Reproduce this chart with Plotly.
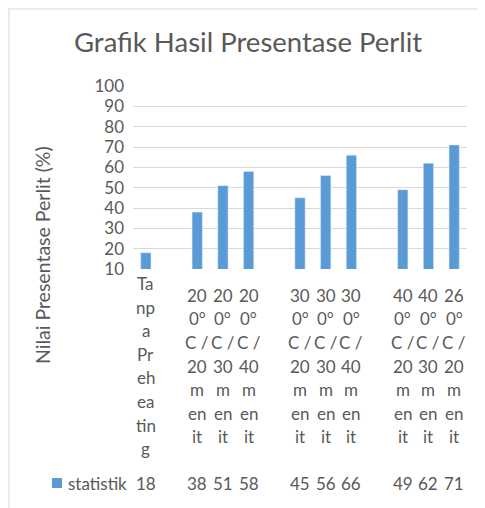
import plotly.graph_objects as go

# ---- data ----
categories = ["Tanpa Preheating", "", "200°C / 20 menit", "200°C / 30 menit", "200°C / 40 menit", "",
              "300°C / 20 menit", "300°C / 30 menit", "300°C / 40 menit", "",
              "400°C / 20 menit", "400°C / 30 menit", "260°C / 20 menit"]
values = [18, None, 38, 51, 58, None, 45, 56, 66, None, 49, 62, 71]
tick_labels = [
    ["Ta", "np", "a", "Pr", "eh", "ea", "tin", "g"],
    [],
    ["20", "0°", "C /", "20", "m", "en", "it"],
    ["20", "0°", "C /", "30", "m", "en", "it"],
    ["20", "0°", "C /", "40", "m", "en", "it"],
    [],
    ["30", "0°", "C /", "20", "m", "en", "it"],
    ["30", "0°", "C /", "30", "m", "en", "it"],
    ["30", "0°", "C /", "40", "m", "en", "it"],
    [],
    ["40", "0°", "C /", "20", "m", "en", "it"],
    ["40", "0°", "C /", "30", "m", "en", "it"],
    ["26", "0°", "C /", "20", "m", "en", "it"],
]
series_name = "statistik"
y_ticks = [10, 20, 30, 40, 50, 60, 70, 80, 90, 100]

# ---- layout constants (reference pixel coords, page body has 8px margin) ----
OFF = 8
W, H = 485 - OFF, 508 - OFF
PL, PR, PT, PB = 133, 467, 86, 269          # plot area in reference pixels
L, T = PL - OFF, PT - OFF
R, B = W - (PR - OFF), H - (PB - OFF)
PW, PH = PR - PL, PB - PT
BLUE = "#5B9BD5"
GREY = "#595959"
FONT = "Lato"
FS = 17

def px_x(p):
    return (p - PL) / PW

def px_y(p):
    return (PB - p) / PH

xs = list(range(len(categories)))

fig = go.Figure()
fig.add_trace(go.Bar(x=xs, y=values, name=series_name, marker=dict(color=BLUE),
                     width=0.40, hoverinfo="skip"))

annotations = []
# category header (wrapped) labels
center_px = 366
step = 23.6
for i, lines in enumerate(tick_labels):
    n = len(lines)
    for j, ln in enumerate(lines):
        annotations.append(dict(x=xs[i], y=px_y(center_px + (j - (n - 1) / 2) * step),
                                xref="x", yref="paper", text=ln,
                                showarrow=False, xanchor="center", yanchor="middle",
                                font=dict(family=FONT, size=FS, color=GREY)))
# data table values row
row_y = px_y(483)
for i, v in enumerate(values):
    if v is None:
        continue
    annotations.append(dict(x=xs[i], y=row_y, xref="x", yref="paper", text=str(v),
                            showarrow=False, xanchor="center", yanchor="middle",
                            font=dict(family=FONT, size=FS, color=GREY)))
# legend key text
annotations.append(dict(x=px_x(66), y=row_y, xref="paper", yref="paper", text=series_name,
                        showarrow=False, xanchor="left", yanchor="middle",
                        font=dict(family=FONT, size=FS, color=GREY)))
# y axis title
annotations.append(dict(x=px_x(42), y=px_y(255), xref="paper", yref="paper",
                        text="Nilai Presentase Perlit (%)", textangle=-90,
                        showarrow=False, xanchor="center", yanchor="middle",
                        font=dict(family=FONT, size=19.5, color=GREY)))
# title
annotations.append(dict(x=px_x(248), y=px_y(42), xref="paper", yref="paper",
                        text="Grafik Hasil Presentase Perlit",
                        showarrow=False, xanchor="center", yanchor="middle",
                        font=dict(family=FONT, size=27.5, color=GREY)))

shapes = [
    # legend key square
    dict(type="rect", xref="paper", yref="paper", x0=px_x(52), x1=px_x(62),
         y0=px_y(488), y1=px_y(478), fillcolor=BLUE, line=dict(width=0)),
    # chart border (top & left), drawn at the figure's edge
    dict(type="line", xref="paper", yref="paper", x0=px_x(OFF), x1=px_x(490),
         y0=px_y(OFF + 1), y1=px_y(OFF + 1), line=dict(color="#E6E6E6", width=1.5)),
    dict(type="line", xref="paper", yref="paper", x0=px_x(OFF + 1), x1=px_x(OFF + 1),
         y0=px_y(OFF), y1=px_y(515), line=dict(color="#E6E6E6", width=1.5)),
]

fig.update_layout(
    width=W, height=H,
    margin=dict(l=L, r=R, t=T, b=B),
    paper_bgcolor="white", plot_bgcolor="white",
    showlegend=False,
    xaxis=dict(range=[-0.5, len(categories) - 0.5], showticklabels=False,
               showgrid=False, zeroline=False, showline=False, fixedrange=True),
    yaxis=dict(range=[10, 100], tickvals=y_ticks, showgrid=True, gridcolor="#D9D9D9",
               gridwidth=1, zeroline=False, showline=False, ticks="",
               ticklabelstandoff=8,
               tickfont=dict(family=FONT, size=FS, color=GREY)),
    annotations=annotations,
    shapes=shapes,
)

fig.write_html("out.html")
